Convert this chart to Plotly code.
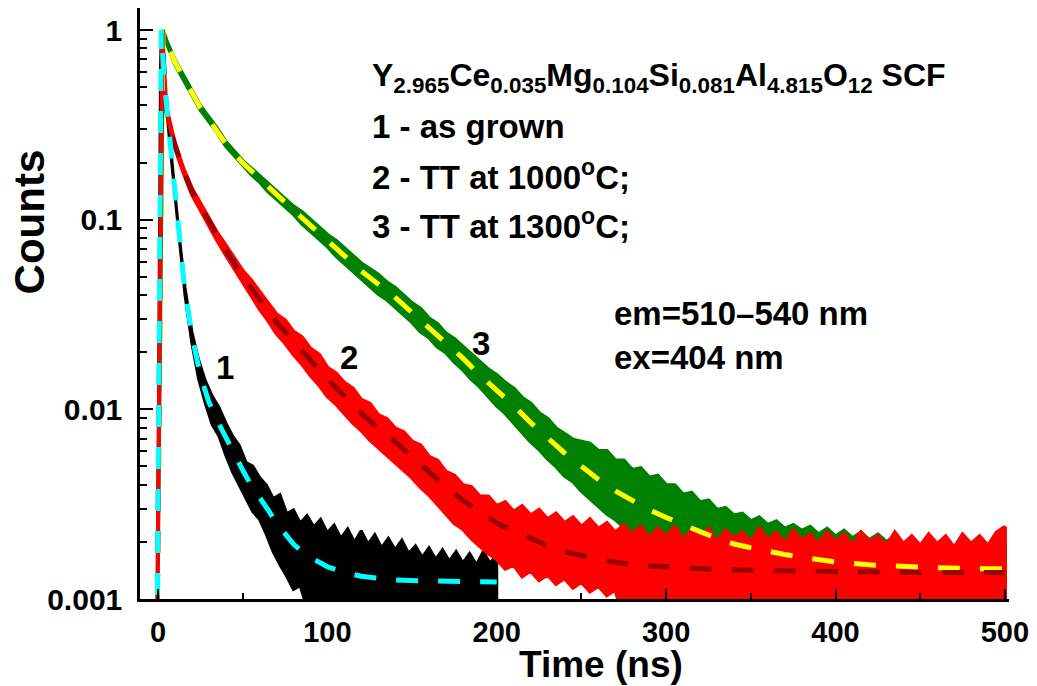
import plotly.graph_objects as go

# ---------------- data (counts given as log10) ----------------
# Curve 1 (black, as grown): noisy band upper / lower edges
t1 = [-0.5, 1.5, 2, 4, 6, 8, 10, 12, 16, 20, 24, 28, 32, 36, 40, 44, 48, 52, 56, 60,
      64, 68, 72, 76, 80, 84, 88, 92, 96, 100, 104, 108, 112, 116, 120, 124, 128, 132, 136, 140,
      144, 148, 152, 156, 160, 164, 168, 172, 176, 180, 184, 188, 192, 196, 200]
c1_hi = [-3.2, -0.2, 0.0, -0.29, -0.48, -0.67, -0.86, -1.04, -1.36, -1.59, -1.74, -1.85, -1.93, -1.99, -2.07, -2.14, -2.19, -2.28, -2.30, -2.36,
         -2.40, -2.47, -2.45, -2.55, -2.53, -2.60, -2.56, -2.62, -2.58, -2.65, -2.61, -2.68, -2.63, -2.70, -2.64, -2.71, -2.66, -2.73, -2.68, -2.74,
         -2.69, -2.76, -2.72, -2.78, -2.73, -2.79, -2.74, -2.80, -2.75, -2.81, -2.76, -2.82, -2.75, -2.81, -2.77]
c1_lo = [-3.2, -0.2, 0.0, -0.31, -0.50, -0.69, -0.88, -1.06, -1.40, -1.65, -1.84, -1.97, -2.08, -2.14, -2.24, -2.33, -2.40, -2.47, -2.54, -2.58,
         -2.66, -2.75, -2.82, -2.88, -2.95, -2.93, -3.05, -3.1, -3.1, -3.1, -3.1, -3.1, -3.1, -3.1, -3.1, -3.1, -3.1, -3.1, -3.1, -3.1,
         -3.1, -3.1, -3.1, -3.1, -3.1, -3.1, -3.1, -3.1, -3.1, -3.1, -3.1, -3.1, -3.1, -3.1, -3.1]

# Curve 2 (red, TT at 1000 C)
t2 = [-0.5, 2.5, 3.5, 5, 10, 15, 20, 25, 30, 35, 40, 45, 50, 55, 60, 65, 70, 75, 80, 85,
      90, 95, 100, 105, 110, 115, 120, 125, 130, 135, 140, 145, 150, 155, 160, 165, 170, 175, 180, 185,
      190, 195, 200, 205, 210, 215, 220, 225, 230, 235, 240, 245, 250, 255, 260, 265, 270, 275, 280, 285,
      290, 295, 300, 305, 310, 315, 320, 325, 330, 335, 340, 345, 350, 355, 360, 365, 370, 375, 380, 385,
      390, 395, 400, 405, 410, 415, 420, 425, 430, 435, 440, 445, 450, 455, 460, 465, 470, 475, 480, 485,
      490, 495, 500]
c2_hi = [-3.2, 0.0, -0.19, -0.41, -0.60, -0.73, -0.835, -0.915, -0.99, -1.07, -1.135, -1.20, -1.27, -1.32, -1.38, -1.44, -1.50, -1.53, -1.59, -1.62,
         -1.68, -1.71, -1.78, -1.81, -1.86, -1.89, -1.95, -1.97, -2.03, -2.05, -2.10, -2.12, -2.17, -2.19, -2.25, -2.27, -2.33, -2.35, -2.40, -2.41,
         -2.46, -2.46, -2.51, -2.49, -2.54, -2.51, -2.56, -2.53, -2.58, -2.55, -2.60, -2.57, -2.62, -2.58, -2.63, -2.60, -2.65, -2.61, -2.66, -2.62,
         -2.68, -2.63, -2.67, -2.62, -2.69, -2.64, -2.68, -2.63, -2.70, -2.64, -2.68, -2.65, -2.70, -2.63, -2.69, -2.65, -2.71, -2.64, -2.69, -2.66,
         -2.71, -2.65, -2.70, -2.66, -2.72, -2.65, -2.70, -2.67, -2.72, -2.65, -2.71, -2.67, -2.72, -2.66, -2.71, -2.67, -2.73, -2.66, -2.71, -2.67,
         -2.72, -2.65, -2.62]
c2_lo = [-3.2, 0.0, -0.21, -0.43, -0.62, -0.75, -0.865, -0.945, -1.03, -1.11, -1.185, -1.26, -1.33, -1.40, -1.47, -1.53, -1.60, -1.65, -1.71, -1.76,
         -1.82, -1.87, -1.93, -1.97, -2.02, -2.07, -2.11, -2.16, -2.20, -2.24, -2.28, -2.32, -2.36, -2.41, -2.45, -2.50, -2.55, -2.60, -2.63, -2.68,
         -2.72, -2.76, -2.79, -2.84, -2.82, -2.88, -2.85, -2.90, -2.87, -2.92, -2.89, -2.94, -2.91, -2.96, -2.93, -2.98, -2.95, -3.1, -3.1, -3.1,
         -3.1, -3.1, -3.1, -3.1, -3.1, -3.1, -3.1, -3.1, -3.1, -3.1, -3.1, -3.1, -3.1, -3.1, -3.1, -3.1, -3.1, -3.1, -3.1, -3.1,
         -3.1, -3.1, -3.1, -3.1, -3.1, -3.1, -3.1, -3.1, -3.1, -3.1, -3.1, -3.1, -3.1, -3.1, -3.1, -3.1, -3.1, -3.1, -3.1, -3.1,
         -3.1, -3.1, -3.1]

# Curve 3 (green, TT at 1300 C)
t3 = [-0.5, 3, 5, 10, 15, 20, 25, 30, 35, 40, 45, 50, 55, 60, 65, 70, 75, 80, 85, 90,
      95, 100, 105, 110, 115, 120, 125, 130, 135, 140, 145, 150, 155, 160, 165, 170, 175, 180, 185, 190,
      195, 200, 205, 210, 215, 220, 225, 230, 235, 240, 245, 250, 255, 260, 265, 270, 275, 280, 285, 290,
      295, 300, 305, 310, 315, 320, 325, 330, 335, 340, 345, 350, 355, 360, 365, 370, 375, 380, 385, 390,
      395, 400, 405, 410, 415, 420, 425, 430, 435, 440, 445, 450, 455, 460, 465, 470, 475, 480, 485, 490,
      495, 500]
c3_hi = [-3.2, 0.0, -0.055, -0.16, -0.24, -0.32, -0.40, -0.46, -0.52, -0.59, -0.64, -0.69, -0.73, -0.77, -0.81, -0.85, -0.89, -0.93, -0.96, -1.00,
         -1.04, -1.08, -1.11, -1.15, -1.19, -1.23, -1.26, -1.29, -1.33, -1.36, -1.40, -1.44, -1.47, -1.52, -1.55, -1.60, -1.63, -1.67, -1.71, -1.75,
         -1.79, -1.82, -1.86, -1.89, -1.94, -1.97, -2.02, -2.05, -2.10, -2.13, -2.16, -2.17, -2.18, -2.22, -2.22, -2.27, -2.27, -2.32, -2.31, -2.36,
         -2.35, -2.40, -2.40, -2.45, -2.44, -2.49, -2.48, -2.53, -2.52, -2.56, -2.55, -2.59, -2.57, -2.61, -2.59, -2.63, -2.61, -2.64, -2.62, -2.66,
         -2.63, -2.67, -2.64, -2.68, -2.65, -2.69, -2.66, -2.70, -2.67, -2.71, -2.68, -2.72, -2.68, -2.72, -2.69, -2.73, -2.69, -2.73, -2.70, -2.74,
         -2.70, -2.72]
c3_lo = [-3.2, 0.0, -0.065, -0.18, -0.26, -0.34, -0.42, -0.48, -0.54, -0.61, -0.66, -0.71, -0.76, -0.80, -0.85, -0.89, -0.93, -0.97, -1.02, -1.06,
         -1.10, -1.14, -1.19, -1.23, -1.27, -1.31, -1.35, -1.39, -1.42, -1.46, -1.50, -1.54, -1.59, -1.62, -1.67, -1.70, -1.75, -1.79, -1.84, -1.88,
         -1.93, -1.98, -2.02, -2.07, -2.12, -2.17, -2.21, -2.26, -2.30, -2.35, -2.38, -2.43, -2.47, -2.51, -2.55, -2.58, -2.62, -2.65, -2.70, -2.72,
         -2.77, -2.80, -2.84, -2.88, -2.92, -2.95, -3.0, -3.05, -3.1, -3.1, -3.1, -3.1, -3.1, -3.1, -3.1, -3.1, -3.1, -3.1, -3.1, -3.1,
         -3.1, -3.1, -3.1, -3.1, -3.1, -3.1, -3.1, -3.1, -3.1, -3.1, -3.1, -3.1, -3.1, -3.1, -3.1, -3.1, -3.1, -3.1, -3.1, -3.1,
         -3.1, -3.1]

# Fitted curves (dashed), log10 counts
fit1_t = [-0.5, 2, 4, 6, 8, 10, 12, 15, 18, 21, 25, 30, 35, 40, 45, 50, 55, 60, 65, 70,
          75, 80, 85, 90, 100, 110, 120, 130, 140, 160, 180, 200]
fit1 = [-3.2, 0.0, -0.30, -0.49, -0.68, -0.87, -1.05, -1.30, -1.49, -1.65, -1.82, -1.96, -2.06, -2.15, -2.24, -2.32, -2.40, -2.46, -2.53, -2.60,
        -2.66, -2.71, -2.75, -2.78, -2.83, -2.86, -2.88, -2.89, -2.90, -2.905, -2.91, -2.91]
fit2_t = [-0.5, 2.5, 3.5, 5, 7, 10, 15, 20, 25, 30, 40, 50, 60, 70, 80, 90, 100, 110, 120, 130,
          140, 150, 160, 170, 180, 190, 200, 210, 220, 230, 240, 250, 260, 280, 300, 330, 360, 400, 450, 500]
fit2 = [-3.2, 0.0, -0.2, -0.42, -0.52, -0.61, -0.74, -0.85, -0.93, -1.01, -1.16, -1.30, -1.42, -1.54, -1.64, -1.74, -1.84, -1.93, -2.02, -2.10,
        -2.17, -2.25, -2.33, -2.41, -2.48, -2.54, -2.60, -2.64, -2.68, -2.72, -2.75, -2.77, -2.79, -2.82, -2.83, -2.845, -2.85, -2.855, -2.86, -2.86]
fit3_t = [-0.5, 3, 5, 7, 10, 15, 20, 25, 30, 40, 50, 60, 70, 80, 90, 100, 110, 120, 130, 140,
          150, 160, 170, 180, 190, 200, 210, 220, 230, 240, 250, 260, 270, 280, 290, 300, 310, 320, 330, 340,
          350, 360, 370, 380, 390, 400, 420, 440, 460, 480, 500]
fit3 = [-3.2, 0.0, -0.06, -0.11, -0.17, -0.25, -0.33, -0.41, -0.47, -0.60, -0.70, -0.785, -0.87, -0.95, -1.03, -1.11, -1.19, -1.27, -1.34, -1.41,
        -1.49, -1.57, -1.65, -1.73, -1.82, -1.90, -1.98, -2.07, -2.15, -2.23, -2.30, -2.37, -2.43, -2.48, -2.53, -2.57, -2.61, -2.645, -2.68, -2.71,
        -2.73, -2.75, -2.765, -2.78, -2.795, -2.805, -2.82, -2.83, -2.835, -2.84, -2.84]

x_ticks = [0, 100, 200, 300, 400, 500]
x_minor_ticks = [50, 150, 250, 350, 450]
y_ticks = [1, 0.1, 0.01, 0.001]
y_tick_text = ["1", "0.1", "0.01", "0.001"]
curve_labels = ["1", "2", "3"]
curve_label_t = [39.5, 113, 190.5]
curve_label_log = [-1.78, -1.725, -1.655]

# ---------------- figure ----------------
FONT = "Liberation Sans, Arial, Helvetica, sans-serif"
fig = go.Figure()


def band(t, hi, lo, color, width):
    xs = list(t) + list(t)[::-1]
    ys = [10 ** v for v in hi] + [10 ** v for v in lo][::-1]
    fig.add_trace(go.Scatter(x=xs, y=ys, mode="lines", fill="toself", fillcolor=color,
                             line=dict(color=color, width=width), hoverinfo="skip", showlegend=False))


band(t3, c3_hi, c3_lo, "#008000", 4)
band(t1, c1_hi, c1_lo, "#000000", 3)
band(t2, c2_hi, c2_lo, "#FF0000", 4)


def fit(t, v, color):
    fig.add_trace(go.Scatter(x=t, y=[10 ** a for a in v], mode="lines",
                             line=dict(color=color, width=5, dash="22px,20px"),
                             hoverinfo="skip", showlegend=False))


fit(fit3_t, fit3, "#FFFF00")
fit(fit2_t, fit2, "#990000")
fit(fit1_t, fit1, "#00FFFF")

L, R, T, B = 140, 1012, 8, 599


def px(xp, yp):
    return (xp - L) / (R - L), (B - yp) / (B - T)


ann = []
text_lines = [
    ("Y<sub>2.965</sub>Ce<sub>0.035</sub>Mg<sub>0.104</sub>Si<sub>0.081</sub>Al<sub>4.815</sub>O<sub>12</sub> SCF", 371, 77, 32),
    ("1 - as grown", 371, 126, 33),
    ("2 - TT at 1000<sup>o</sup>C;", 371, 175, 33),
    ("3 - TT at 1300<sup>o</sup>C;", 371, 224, 33),
    ("em=510\u2013540 nm", 614, 313, 33),
    ("ex=404 nm", 614, 357, 33),
]
for txt, xp, yp, fs in text_lines:
    xx, yy = px(xp, yp)
    ann.append(dict(text=txt, x=xx, y=yy, xref="paper", yref="paper", xanchor="left", yanchor="middle",
                    showarrow=False, font=dict(family=FONT, size=fs, color="black", weight="bold")))

for lab, tx, ly in zip(curve_labels, curve_label_t, curve_label_log):
    ann.append(dict(text=lab, x=tx, y=ly, xref="x", yref="y", xanchor="center", yanchor="middle",
                    showarrow=False, font=dict(family=FONT, size=33, color="black", weight="bold")))

xx, yy = px(29, 222)
ann.append(dict(text="Counts", x=xx, y=yy, xref="paper", yref="paper", textangle=-90,
                xanchor="center", yanchor="middle", showarrow=False,
                font=dict(family=FONT, size=42, color="black", weight="bold")))
xx, yy = px(603, 664)
ann.append(dict(text="Time (ns)", x=xx, y=yy, xref="paper", yref="paper",
                xanchor="center", yanchor="middle", showarrow=False,
                font=dict(family=FONT, size=37, color="black", weight="bold")))

y_minor = [m * 10.0 ** e for e in (-3, -2, -1) for m in range(2, 10)]

fig.update_layout(
    width=1037, height=686,
    margin=dict(l=L, r=1037 - R, t=T, b=686 - B),
    paper_bgcolor="white", plot_bgcolor="white",
    font=dict(family=FONT, color="black", weight="bold"),
    showlegend=False,
    annotations=ann,
    xaxis=dict(range=[-10.6, 502.4], showgrid=False, zeroline=False, showline=True,
               linecolor="black", linewidth=2.5, ticks="inside", ticklen=10, tickwidth=2,
               tickcolor="black", tickmode="array", tickvals=x_ticks,
               tickfont=dict(family=FONT, size=29, color="black", weight="bold"),
               ticklabelstandoff=5,
               minor=dict(tickmode="array", tickvals=x_minor_ticks, ticks="inside", ticklen=6,
                          tickwidth=2, tickcolor="black", showgrid=False)),
    yaxis=dict(type="log", range=[-3, 0.116], showgrid=False, zeroline=False, showline=True,
               linecolor="black", linewidth=2.5, ticks="inside", ticklen=13, tickwidth=2,
               tickcolor="black", tickmode="array", tickvals=y_ticks, ticktext=y_tick_text,
               tickfont=dict(family=FONT, size=30, color="black", weight="bold"),
               ticklabelstandoff=9,
               minor=dict(tickmode="array", tickvals=y_minor, ticks="inside", ticklen=7,
                          tickwidth=2, tickcolor="black", showgrid=False)),
)

fig.write_html("out.html")
